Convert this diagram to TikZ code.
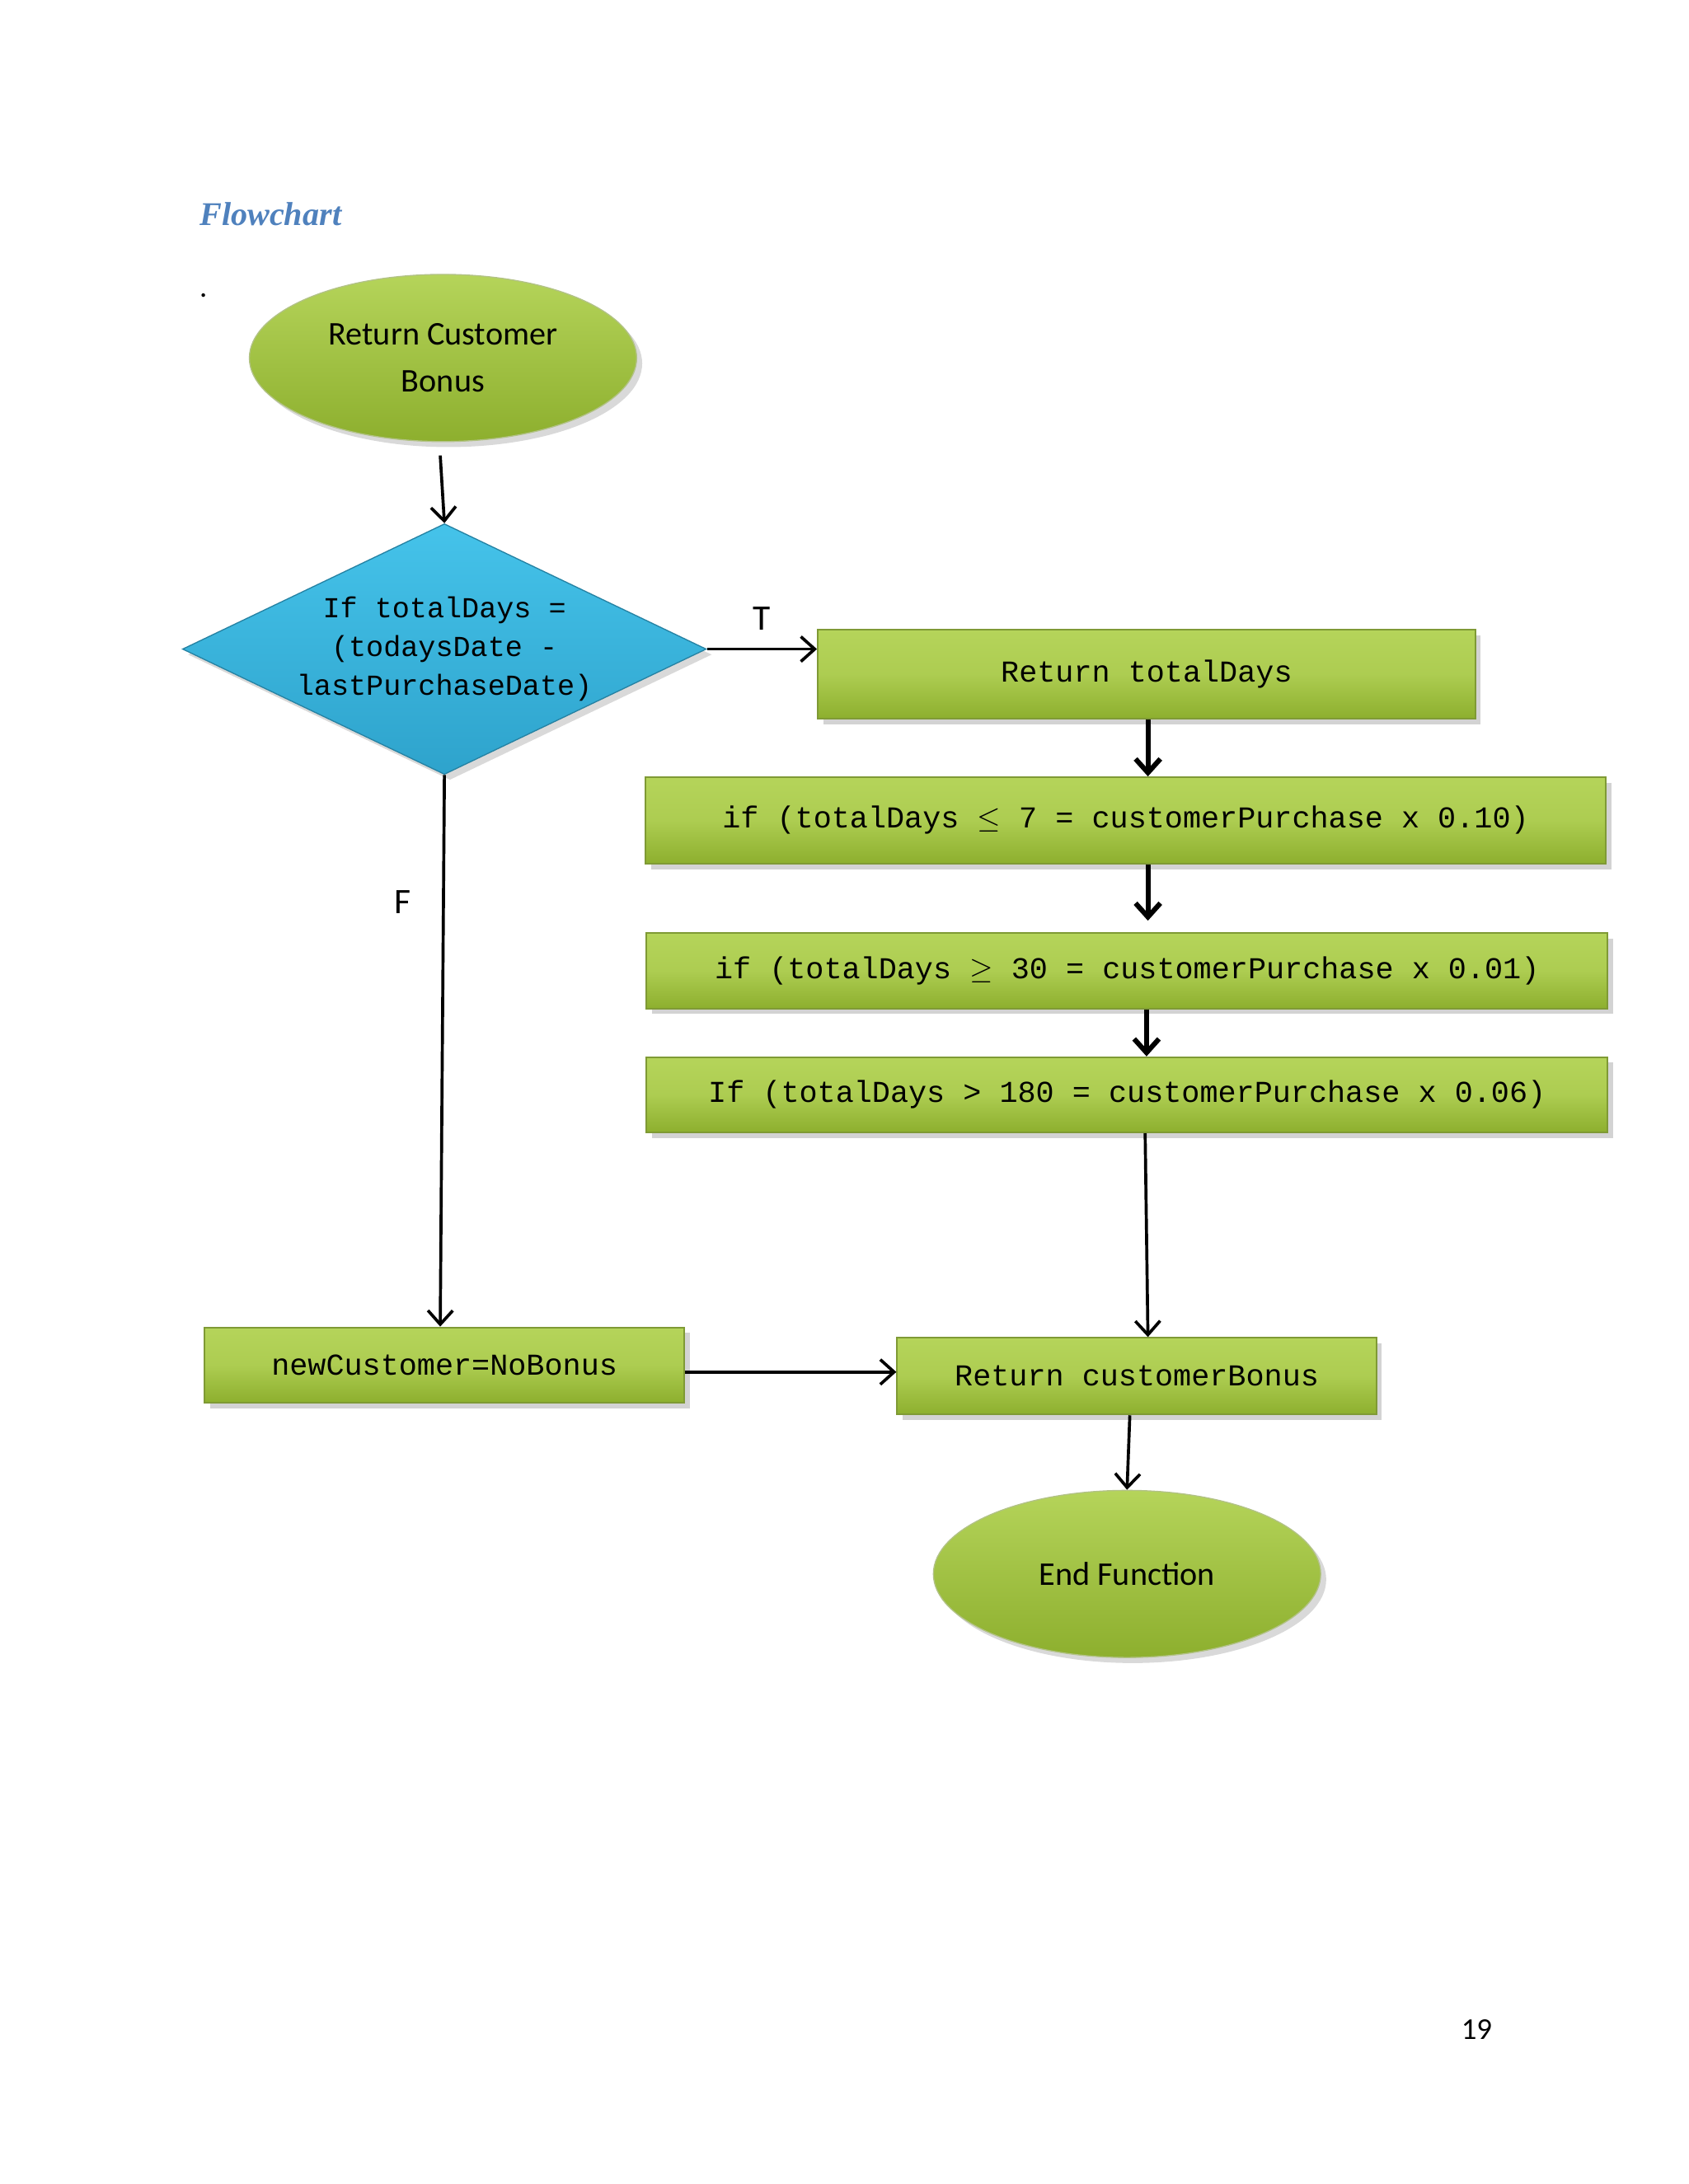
\documentclass[tikz,border=0pt]{standalone}
\usepackage{fontspec}
\setmainfont{Carlito}
\newfontfamily\code{Liberation Mono}
\newfontfamily\ttl{Liberation Serif}
\usetikzlibrary{shapes.geometric,arrows.meta,shadows}
\definecolor{gtop}{HTML}{B5D45A}
\definecolor{gbot}{HTML}{8DAF2E}
\definecolor{gline}{HTML}{7F9A35}
\definecolor{btop}{HTML}{45C3EA}
\definecolor{bbot}{HTML}{2EA3CC}
\definecolor{ttlc}{HTML}{4F81BD}
\tikzset{
  gbox/.style={draw=gline, line width=0.6pt, top color=gtop, bottom color=gbot, middle color=gtop!80!gbot,
    drop shadow={shadow xshift=2pt, shadow yshift=-2pt, opacity=0.35}, font=\code\fontsize{11}{13}\selectfont, inner sep=0pt},
  gell/.style={ellipse, draw=gline!60, top color=gtop, bottom color=gbot, inner sep=0pt,
    drop shadow={shadow xshift=2pt, shadow yshift=-2pt, opacity=0.3}, font=\fontsize{12}{17}\selectfont, align=center},
  ar/.style={-{Straight Barb[length=5pt,width=9pt]}, line width=1.1pt},
  tar/.style={-{Straight Barb[length=5pt,width=9pt]}, line width=1.8pt},
}
\begin{document}
\begin{tikzpicture}[x=0.505pt,y=-0.505pt]
\useasboundingbox (0,0) rectangle (1212,1568);
\node[anchor=west, inner sep=0pt, font=\ttl\bfseries\itshape\fontsize{12}{14}\selectfont, text=ttlc] (title) at (143,154) {Flowchart};
\node[font=\fontsize{11}{13}\selectfont] (dot) at (146,212) {.};
\node[gell, minimum width=278*0.505pt, minimum height=120*0.505pt] (start) at (318,257) {Return Customer\\Bonus};
\node[diamond, aspect=2.09, draw=bbot!80!black, line width=0.4pt, top color=btop, bottom color=bbot, minimum width=376*0.505pt, minimum height=180*0.505pt, inner sep=0pt,
  drop shadow={shadow xshift=2pt, shadow yshift=-2pt, opacity=0.3}, font=\code\fontsize{10.5}{14}\selectfont, align=center] (dec) at (319,466)
  {If totalDays =\\(todaysDate -\\lastPurchaseDate)};
\node[gbox, minimum width=472*0.505pt, minimum height=64*0.505pt] (b1) at (823,484) {Return totalDays};
\node[gbox, minimum width=689*0.505pt, minimum height=62*0.505pt] (b2) at (808,589) {if (totalDays $\leq$ 7 = customerPurchase x 0.10)};
\node[gbox, minimum width=690*0.505pt, minimum height=54*0.505pt] (b3) at (809,697) {if (totalDays $\geq$ 30 = customerPurchase x 0.01)};
\node[gbox, minimum width=690*0.505pt, minimum height=54*0.505pt] (b4) at (809,786) {If (totalDays > 180 = customerPurchase x 0.06)};
\node[gbox, minimum width=344*0.505pt, minimum height=55*0.505pt] (b5) at (816,988) {Return customerBonus};
\node[gbox, minimum width=344*0.505pt, minimum height=54*0.505pt] (b6) at (319,980) {newCustomer=NoBonus};
\node[gell, minimum width=278*0.505pt, minimum height=120*0.505pt] (end) at (809,1130) {End Function};
\node[font=\fontsize{11}{13}\selectfont] (pg) at (1060,1457) {19};

\coordinate (s1) at (316,327);
\draw[ar] (s1) -- (dec.north);
\draw[ar] (dec.east) -- (b1.west |- dec.east) node[midway, above=3pt, font=\fontsize{13}{15}\selectfont] (tl) {T};
\draw[tar] (b1.south -| 824,0) -- (b2.north -| 824,0);
\draw[tar] (b2.south -| 824,0) -- (824,661);
\draw[tar] (b3.south -| 823,0) -- (b4.north -| 823,0);
\draw[ar] (b4.south -| 822,0) -- (b5.north -| 824,0);
\draw[ar] (dec.south) -- (b6.north -| 316,0) node[pos=0.23, left=8pt, font=\fontsize{13}{15}\selectfont] (fl) {F};
\draw[ar] (b6.east |- 0,985) -- (b5.west |- 0,985);
\draw[ar] (b5.south -| 811,0) -- (end.north);
\end{tikzpicture}
\end{document}
